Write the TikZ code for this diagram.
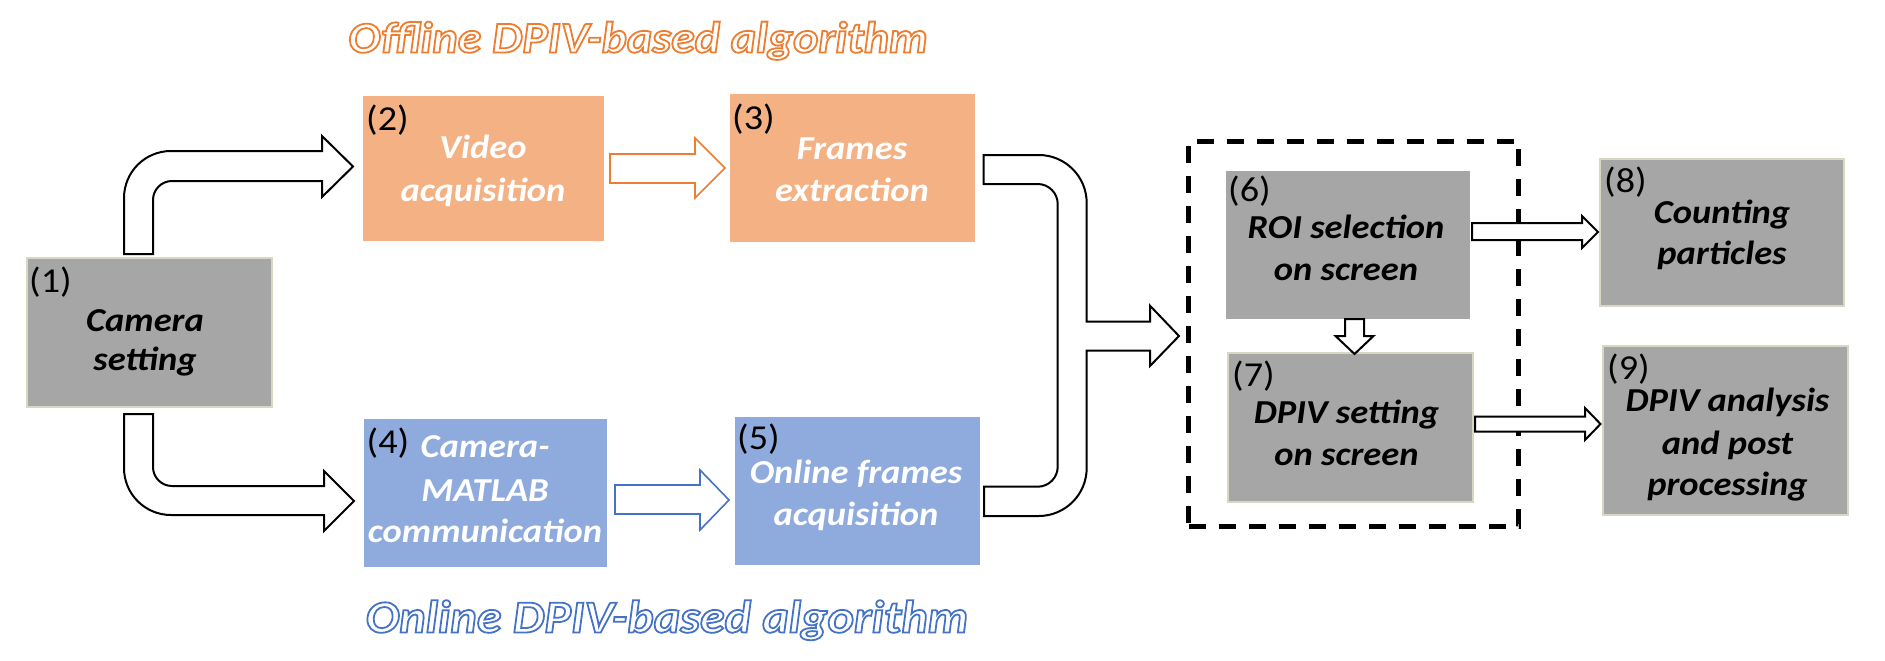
\documentclass[tikz,border=0pt]{standalone}
\usepackage{fontspec}
\setmainfont{Carlito}
\newfontfamily\lblfont[FakeStretch=1.09]{Carlito}
\definecolor{boxgray}{HTML}{A6A6A6}
\definecolor{beige}{HTML}{D9D6C2}
\definecolor{boxorange}{HTML}{F4B183}
\definecolor{boxblue}{HTML}{8FAADC}
\definecolor{aorange}{HTML}{ED7D31}
\definecolor{ablue}{HTML}{4472C4}
\newcommand\strokedtext[2]{{\color{white}\special{pdf:literal direct #1 RG 2 Tr 1.8 w}#2\special{pdf:literal direct 0 Tr}}}
\tikzset{
  box/.style={rectangle, inner sep=0pt, outer sep=0pt},
  graybox/.style={box, fill=boxgray},
  gframe/.style={graybox, draw=beige, line width=2.5pt},
  obox/.style={box, fill=boxorange},
  bluebox/.style={box, fill=boxblue},
  lbl/.style={font=\lblfont\fontsize{33.5}{40}\selectfont\bfseries\itshape, inner sep=0pt, anchor=base},
  wlbl/.style={lbl, text=white},
  num/.style={font=\lblfont\fontsize{35}{42}\selectfont, inner sep=0pt, anchor=north west},
  barrow/.style={draw=black, fill=white, line width=2pt, line join=miter},
  oarrow/.style={draw=aorange, fill=white, line width=1.6pt},
  blarrow/.style={draw=ablue, fill=white, line width=1.6pt},
  ttl/.style={font=\lblfont\fontsize{44}{50}\selectfont\bfseries\itshape, inner sep=0pt, anchor=base},
  ttlb/.style={font=\lblfont\fontsize{46}{52}\selectfont\bfseries\itshape, inner sep=0pt, anchor=base},
  dbox/.style={draw=black, line width=5pt, dash pattern=on 17pt off 13pt, inner sep=0pt}
}
\begin{document}
\begin{tikzpicture}[x=1pt,y=-1pt]
\useasboundingbox (0,0) rectangle (1885,661);
% titles
\node[ttl] (toff) at (638,52.5) {\strokedtext{0.929 0.490 0.192}{Offline DPIV-based algorithm}};
\node[ttlb] (ton) at (667,632.5) {\strokedtext{0.267 0.447 0.769}{Online DPIV-based algorithm}};
% boxes
\node[gframe, minimum width=245pt, minimum height=149pt] (b1) at (149.5,332.5) {};
\node[obox, minimum width=241pt, minimum height=145pt] (b2) at (483.5,168.5) {};
\node[obox, minimum width=245pt, minimum height=148pt] (b3) at (852.5,168) {};
\node[bluebox, minimum width=243pt, minimum height=148pt] (b4) at (485.5,493) {};
\node[bluebox, minimum width=245pt, minimum height=148pt] (b5) at (857.5,491) {};
\node[dbox, minimum width=330pt, minimum height=385pt] (grp) at (1353.5,333.5) {};
\node[graybox, minimum width=244pt, minimum height=148pt] (b6) at (1348,245) {};
\node[gframe, minimum width=245pt, minimum height=149pt] (b7) at (1350.5,427.5) {};
\node[gframe, minimum width=244pt, minimum height=147pt] (b8) at (1722,232.5) {};
\node[gframe, minimum width=245pt, minimum height=169pt] (b9) at (1725.5,430.5) {};
% numbers
\node[num] (n1) at (29,267) {(1)};
\node[num] (n2) at (366,105) {(2)};
\node[num] (n3) at (732,104) {(3)};
\node[num] (n4) at (366.5,428) {(4)};
\node[num] (n5) at (737,424) {(5)};
\node[num] (n6) at (1228,176) {(6)};
\node[num] (n7) at (1232,361) {(7)};
\node[num] (n8) at (1604,167) {(8)};
\node[num] (n9) at (1607,354) {(9)};
% labels
\node[lbl] (l1a) at (145,331.7) {Camera};
\node[lbl] (l1b) at (145,370) {setting};
\node[wlbl] (l2a) at (483,158) {Video};
\node[wlbl] (l2b) at (483,201.5) {acquisition};
\node[wlbl] (l3a) at (852,159.4) {Frames};
\node[wlbl] (l3b) at (852,201.5) {extraction};
\node[wlbl] (l4a) at (485,457.3) {Camera-};
\node[wlbl] (l4b) at (485,501.3) {MATLAB};
\node[wlbl] (l4c) at (485,542.3) {communication};
\node[wlbl] (l5a) at (856,483.6) {Online frames};
\node[wlbl] (l5b) at (856,525) {acquisition};
\node[lbl] (l6a) at (1346,238.2) {ROI selection};
\node[lbl] (l6b) at (1346,280.4) {on screen};
\node[lbl] (l7a) at (1346.5,423.7) {DPIV setting};
\node[lbl] (l7b) at (1346.5,465.9) {on screen};
\node[lbl] (l8a) at (1722,223.4) {Counting};
\node[lbl] (l8b) at (1722,264.8) {particles};
\node[lbl] (l9a) at (1727.5,411) {DPIV analysis};
\node[lbl] (l9b) at (1727.5,454.5) {and post};
\node[lbl] (l9c) at (1727.5,495.4) {processing};
% block arrows
\draw[barrow] (124,254) -- (124,198) .. controls (124,172) and (145,151) .. (171,151) -- (322,151) -- (322,136) -- (353,166.5) -- (322,197) -- (322,181) -- (172,181) .. controls (161.5,181) and (153,189.5) .. (153,200) -- (153,254) -- cycle;
\draw[barrow] (124,414) -- (124,468) .. controls (124,494) and (145,515) .. (171,515) -- (324,515) -- (324,531) -- (354,501) -- (324,471) -- (324,486) -- (172,486) .. controls (161.5,486) and (153,477.5) .. (153,467) -- (153,414) -- cycle;
\draw[oarrow] (610,154) -- (695,154) -- (695,138) -- (725,168) -- (695,198) -- (695,183) -- (610,183) -- cycle;
\draw[blarrow] (615,485) -- (700,485) -- (700,470) -- (729,500) -- (700,530) -- (700,514) -- (615,514) -- cycle;
\draw[barrow] (983.5,155) -- (1038.7,155) .. controls (1065.2,155) and (1086.7,176.5) .. (1086.7,203) -- (1086.7,321.7) -- (1150,321.7) -- (1150,305.7) -- (1179,336) -- (1150,366) -- (1150,350.7) -- (1086.7,350.7) -- (1086.7,468) .. controls (1086.7,494.5) and (1065.2,516) .. (1038.7,516) -- (984,516) -- (984,486.7) -- (1037.7,486.7) .. controls (1048.7,486.7) and (1057.7,477.7) .. (1057.7,466.7) -- (1057.7,204) .. controls (1057.7,193) and (1048.7,184) .. (1037.7,184) -- (983.5,184) -- cycle;
\draw[barrow] (1345,319) -- (1345,336) -- (1335.5,336) -- (1354.5,354) -- (1373.5,336) -- (1364,336) -- (1364,319) -- cycle;
\draw[barrow] (1472,223) -- (1582,223) -- (1582,216) -- (1598,232) -- (1582,248) -- (1582,240) -- (1472,240) -- cycle;
\draw[barrow] (1475,416.5) -- (1585,416.5) -- (1585,408) -- (1600.5,424) -- (1585,440) -- (1585,431.5) -- (1475,431.5) -- cycle;
\end{tikzpicture}
\end{document}
